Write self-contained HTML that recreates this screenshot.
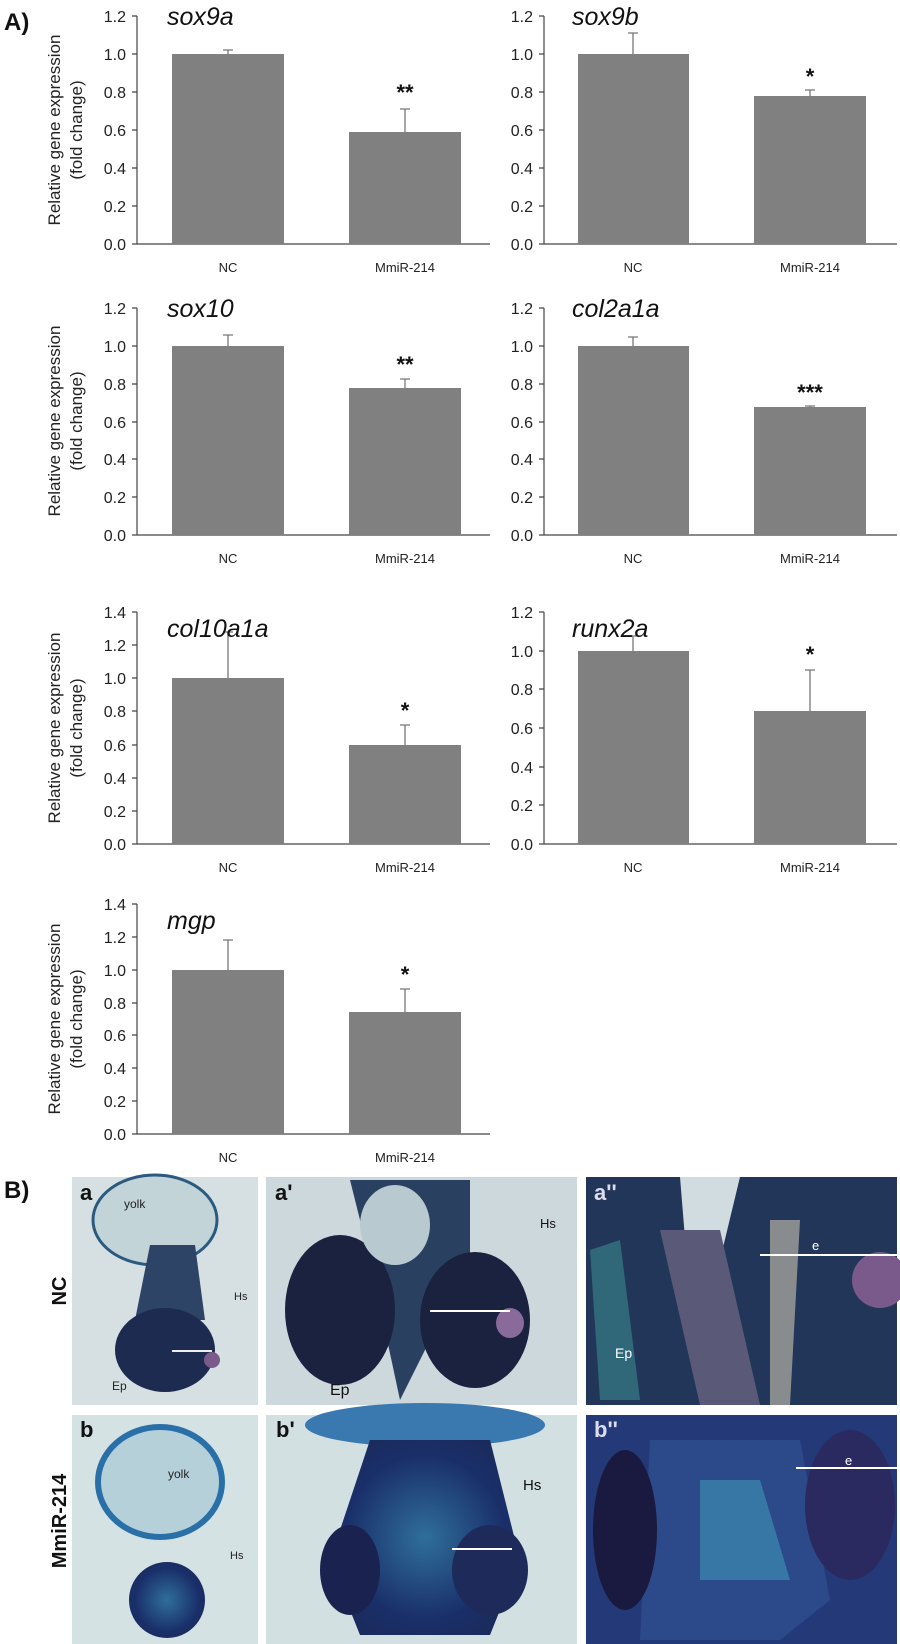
<!DOCTYPE html>
<html><head><meta charset="utf-8"><style>
html,body{margin:0;padding:0;background:#fff;width:900px;height:1644px;overflow:hidden;}
svg{display:block}
.t{font-family:"Liberation Sans",sans-serif;font-size:16px;fill:#222}
.c{font-family:"Liberation Sans",sans-serif;font-size:13px;fill:#222}
.g{font-family:"Liberation Sans",sans-serif;font-size:25px;font-style:italic;fill:#111}
.yl{font-family:"Liberation Sans",sans-serif;font-size:17px;fill:#222}
.s{font-family:"Liberation Sans",sans-serif;font-size:22px;font-weight:bold;fill:#111}
.ax{stroke:#444;stroke-width:1.2;fill:none}
.e{stroke:#777;stroke-width:1.3;fill:none}
</style></head><body>
<svg width="900" height="1644" viewBox="0 0 900 1644" xmlns="http://www.w3.org/2000/svg">
<defs>
<radialGradient id="emb2" cx="50%" cy="50%" r="60%"><stop offset="0" stop-color="#2f6f9a"/><stop offset="0.7" stop-color="#1a2f6a"/><stop offset="1" stop-color="#1a2a5a"/></radialGradient>
</defs>
<text x="4" y="30" font-family="Liberation Sans" font-weight="bold" font-size="24" fill="#111">A)</text>

<g class="yl" text-anchor="middle">
<text transform="translate(60,130) rotate(-90)">Relative gene expression</text>
<text transform="translate(82,130) rotate(-90)">(fold change)</text>
<text transform="translate(60,421) rotate(-90)">Relative gene expression</text>
<text transform="translate(82,421) rotate(-90)">(fold change)</text>
<text transform="translate(60,728) rotate(-90)">Relative gene expression</text>
<text transform="translate(82,728) rotate(-90)">(fold change)</text>
<text transform="translate(60,1019) rotate(-90)">Relative gene expression</text>
<text transform="translate(82,1019) rotate(-90)">(fold change)</text>
</g>

<g>
<path class="ax" d="M137 16V244H490 M132 16H137 M132 54H137 M132 92H137 M132 130H137 M132 168H137 M132 206H137 M132 244H137"/>
<g class="t" text-anchor="end"><text x="126" y="22">1.2</text><text x="126" y="60">1.0</text><text x="126" y="98">0.8</text><text x="126" y="136">0.6</text><text x="126" y="174">0.4</text><text x="126" y="212">0.2</text><text x="126" y="250">0.0</text></g>
<rect x="172" y="54" width="112" height="190" fill="#808080"/><rect x="349" y="132" width="112" height="112" fill="#808080"/>
<path class="e" d="M228 54V50M223 50H233M405 132V109M400 109H410"/>
<text class="s" x="405" y="100" text-anchor="middle">**</text>
<text class="g" x="167" y="25">sox9a</text>
<text class="c" x="228" y="272" text-anchor="middle">NC</text><text class="c" x="405" y="272" text-anchor="middle">MmiR-214</text>
</g>
<g>
<path class="ax" d="M544 16V244H897 M539 16H544 M539 54H544 M539 92H544 M539 130H544 M539 168H544 M539 206H544 M539 244H544"/>
<g class="t" text-anchor="end"><text x="533" y="22">1.2</text><text x="533" y="60">1.0</text><text x="533" y="98">0.8</text><text x="533" y="136">0.6</text><text x="533" y="174">0.4</text><text x="533" y="212">0.2</text><text x="533" y="250">0.0</text></g>
<rect x="578" y="54" width="111" height="190" fill="#808080"/><rect x="754" y="96" width="112" height="148" fill="#808080"/>
<path class="e" d="M633 54V33M628 33H638M810 96V90M805 90H815"/>
<text class="s" x="810" y="84" text-anchor="middle">*</text>
<text class="g" x="572" y="25">sox9b</text>
<text class="c" x="633" y="272" text-anchor="middle">NC</text><text class="c" x="810" y="272" text-anchor="middle">MmiR-214</text>
</g>
<g>
<path class="ax" d="M137 308V535H490 M132 308H137 M132 346H137 M132 384H137 M132 422H137 M132 459H137 M132 497H137 M132 535H137"/>
<g class="t" text-anchor="end"><text x="126" y="314">1.2</text><text x="126" y="352">1.0</text><text x="126" y="390">0.8</text><text x="126" y="428">0.6</text><text x="126" y="465">0.4</text><text x="126" y="503">0.2</text><text x="126" y="541">0.0</text></g>
<rect x="172" y="346" width="112" height="189" fill="#808080"/><rect x="349" y="388" width="112" height="147" fill="#808080"/>
<path class="e" d="M228 346V335M223 335H233M405 388V379M400 379H410"/>
<text class="s" x="405" y="372" text-anchor="middle">**</text>
<text class="g" x="167" y="317">sox10</text>
<text class="c" x="228" y="563" text-anchor="middle">NC</text><text class="c" x="405" y="563" text-anchor="middle">MmiR-214</text>
</g>
<g>
<path class="ax" d="M544 308V535H897 M539 308H544 M539 346H544 M539 384H544 M539 422H544 M539 459H544 M539 497H544 M539 535H544"/>
<g class="t" text-anchor="end"><text x="533" y="314">1.2</text><text x="533" y="352">1.0</text><text x="533" y="390">0.8</text><text x="533" y="428">0.6</text><text x="533" y="465">0.4</text><text x="533" y="503">0.2</text><text x="533" y="541">0.0</text></g>
<rect x="578" y="346" width="111" height="189" fill="#808080"/><rect x="754" y="407" width="112" height="128" fill="#808080"/>
<path class="e" d="M633 346V337M628 337H638M810 407V406M805 406H815"/>
<text class="s" x="810" y="400" text-anchor="middle">***</text>
<text class="g" x="572" y="317">col2a1a</text>
<text class="c" x="633" y="563" text-anchor="middle">NC</text><text class="c" x="810" y="563" text-anchor="middle">MmiR-214</text>
</g>
<g>
<path class="ax" d="M137 612V844H490 M132 612H137 M132 645H137 M132 678H137 M132 711H137 M132 745H137 M132 778H137 M132 811H137 M132 844H137"/>
<g class="t" text-anchor="end"><text x="126" y="618">1.4</text><text x="126" y="651">1.2</text><text x="126" y="684">1.0</text><text x="126" y="717">0.8</text><text x="126" y="751">0.6</text><text x="126" y="784">0.4</text><text x="126" y="817">0.2</text><text x="126" y="850">0.0</text></g>
<rect x="172" y="678" width="112" height="166" fill="#808080"/><rect x="349" y="745" width="112" height="99" fill="#808080"/>
<path class="e" d="M228 678V632M223 632H233M405 745V725M400 725H410"/>
<text class="s" x="405" y="718" text-anchor="middle">*</text>
<text class="g" x="167" y="637">col10a1a</text>
<text class="c" x="228" y="872" text-anchor="middle">NC</text><text class="c" x="405" y="872" text-anchor="middle">MmiR-214</text>
</g>
<g>
<path class="ax" d="M544 612V844H897 M539 612H544 M539 651H544 M539 689H544 M539 728H544 M539 767H544 M539 805H544 M539 844H544"/>
<g class="t" text-anchor="end"><text x="533" y="618">1.2</text><text x="533" y="657">1.0</text><text x="533" y="695">0.8</text><text x="533" y="734">0.6</text><text x="533" y="773">0.4</text><text x="533" y="811">0.2</text><text x="533" y="850">0.0</text></g>
<rect x="578" y="651" width="111" height="193" fill="#808080"/><rect x="754" y="711" width="112" height="133" fill="#808080"/>
<path class="e" d="M633 651V636M628 636H638M810 711V670M805 670H815"/>
<text class="s" x="810" y="662" text-anchor="middle">*</text>
<text class="g" x="572" y="637">runx2a</text>
<text class="c" x="633" y="872" text-anchor="middle">NC</text><text class="c" x="810" y="872" text-anchor="middle">MmiR-214</text>
</g>
<g>
<path class="ax" d="M137 904V1134H490 M132 904H137 M132 937H137 M132 970H137 M132 1003H137 M132 1035H137 M132 1068H137 M132 1101H137 M132 1134H137"/>
<g class="t" text-anchor="end"><text x="126" y="910">1.4</text><text x="126" y="943">1.2</text><text x="126" y="976">1.0</text><text x="126" y="1009">0.8</text><text x="126" y="1041">0.6</text><text x="126" y="1074">0.4</text><text x="126" y="1107">0.2</text><text x="126" y="1140">0.0</text></g>
<rect x="172" y="970" width="112" height="164" fill="#808080"/><rect x="349" y="1012" width="112" height="122" fill="#808080"/>
<path class="e" d="M228 970V940M223 940H233M405 1012V989M400 989H410"/>
<text class="s" x="405" y="982" text-anchor="middle">*</text>
<text class="g" x="167" y="929">mgp</text>
<text class="c" x="228" y="1162" text-anchor="middle">NC</text><text class="c" x="405" y="1162" text-anchor="middle">MmiR-214</text>
</g>

<text x="4" y="1198" font-family="Liberation Sans" font-weight="bold" font-size="24" fill="#111">B)</text>
<text transform="translate(66,1291) rotate(-90)" text-anchor="middle" font-family="Liberation Sans" font-weight="bold" font-size="20" fill="#111">NC</text>
<text transform="translate(66,1521) rotate(-90)" text-anchor="middle" font-family="Liberation Sans" font-weight="bold" font-size="20" fill="#111">MmiR-214</text>

<!-- a -->
<rect x="72" y="1177" width="186" height="228" fill="#d6e0e2"/>
<ellipse cx="155" cy="1220" rx="62" ry="45" fill="#c2d4d8" stroke="#2a5a80" stroke-width="3"/>
<path d="M150 1245 L195 1245 L205 1320 L135 1320 Z" fill="#2e4466"/>
<ellipse cx="165" cy="1350" rx="50" ry="42" fill="#1e2b50"/>
<ellipse cx="212" cy="1360" rx="8" ry="8" fill="#7a5a8a"/>
<rect x="172" y="1350" width="40" height="2" fill="#eee"/>
<text x="80" y="1200" font-family="Liberation Sans" font-weight="bold" font-size="22" fill="#111">a</text>
<text x="124" y="1208" font-family="Liberation Sans" font-size="12" fill="#222">yolk</text>
<text x="234" y="1300" font-family="Liberation Sans" font-size="11" fill="#222">Hs</text>
<text x="112" y="1390" font-family="Liberation Sans" font-size="12" fill="#222">Ep</text>
<!-- a' -->
<rect x="266" y="1177" width="311" height="228" fill="#cdd8dc"/>
<path d="M350 1180 L470 1180 L470 1260 L400 1400 L370 1260 Z" fill="#2a4060"/>
<ellipse cx="340" cy="1310" rx="55" ry="75" fill="#1a2240"/>
<ellipse cx="475" cy="1320" rx="55" ry="68" fill="#1a2240"/>
<ellipse cx="395" cy="1225" rx="35" ry="40" fill="#b8cad0"/>
<ellipse cx="510" cy="1323" rx="14" ry="15" fill="#8a6a9a"/>
<rect x="430" y="1310" width="80" height="2" fill="#fff"/>
<text x="275" y="1200" font-family="Liberation Sans" font-weight="bold" font-size="22" fill="#111">a'</text>
<text x="540" y="1228" font-family="Liberation Sans" font-size="13" fill="#111">Hs</text>
<text x="330" y="1395" font-family="Liberation Sans" font-size="16" fill="#111">Ep</text>
<!-- a'' -->
<rect x="586" y="1177" width="311" height="228" fill="#22365a"/>
<path d="M680 1177 L740 1177 L720 1260 L690 1300 Z" fill="#d0dce0"/>
<path d="M660 1230 L720 1230 L760 1405 L700 1405 Z" fill="#5a5a78"/>
<path d="M770 1220 L800 1220 L790 1405 L770 1405 Z" fill="#cfc6b0" opacity="0.6"/>
<circle cx="880" cy="1280" r="28" fill="#7a5a8a"/>
<path d="M590 1250 L620 1240 L640 1400 L600 1400 Z" fill="#3a8a90" opacity="0.6"/>
<rect x="760" y="1254" width="137" height="2" fill="#fff"/>
<text x="594" y="1200" font-family="Liberation Sans" font-weight="bold" font-size="22" fill="#dde">a''</text>
<text x="615" y="1358" font-family="Liberation Sans" font-size="14" fill="#fff">Ep</text>
<text x="812" y="1250" font-family="Liberation Sans" font-size="13" fill="#fff">e</text>
<!-- b -->
<rect x="72" y="1415" width="186" height="229" fill="#d5e2e4"/>
<ellipse cx="160" cy="1482" rx="62" ry="55" fill="#b6d0da"/>
<ellipse cx="160" cy="1482" rx="62" ry="55" fill="none" stroke="#2a70a8" stroke-width="6"/>
<ellipse cx="167" cy="1600" rx="38" ry="38" fill="url(#emb2)"/>
<text x="80" y="1437" font-family="Liberation Sans" font-weight="bold" font-size="22" fill="#111">b</text>
<text x="168" y="1478" font-family="Liberation Sans" font-size="12" fill="#222">yolk</text>
<text x="230" y="1559" font-family="Liberation Sans" font-size="11" fill="#222">Hs</text>
<!-- b' -->
<rect x="266" y="1415" width="311" height="229" fill="#d3e0e2"/>
<ellipse cx="425" cy="1425" rx="120" ry="22" fill="#3a78b0"/>
<path d="M370 1440 L490 1440 L520 1560 L490 1635 L360 1635 L330 1560 Z" fill="url(#emb2)"/>
<ellipse cx="350" cy="1570" rx="30" ry="45" fill="#1a2250"/>
<ellipse cx="490" cy="1570" rx="38" ry="45" fill="#1e2a5a"/>
<rect x="452" y="1548" width="60" height="2" fill="#fff"/>
<text x="276" y="1437" font-family="Liberation Sans" font-weight="bold" font-size="22" fill="#111">b'</text>
<text x="523" y="1490" font-family="Liberation Sans" font-size="15" fill="#111">Hs</text>
<!-- b'' -->
<rect x="586" y="1415" width="311" height="229" fill="#243a78"/>
<path d="M650 1440 L800 1440 L830 1600 L780 1640 L640 1640 Z" fill="#2c4a8a"/>
<path d="M700 1480 L760 1480 L790 1580 L700 1580 Z" fill="#3a8ab0" opacity="0.7"/>
<ellipse cx="625" cy="1530" rx="32" ry="80" fill="#1a1a40"/>
<ellipse cx="850" cy="1505" rx="45" ry="75" fill="#2a2a60"/>
<rect x="796" y="1467" width="101" height="2" fill="#fff"/>
<text x="594" y="1437" font-family="Liberation Sans" font-weight="bold" font-size="22" fill="#dde">b''</text>
<text x="845" y="1465" font-family="Liberation Sans" font-size="13" fill="#fff">e</text>
</svg>
</body></html>
